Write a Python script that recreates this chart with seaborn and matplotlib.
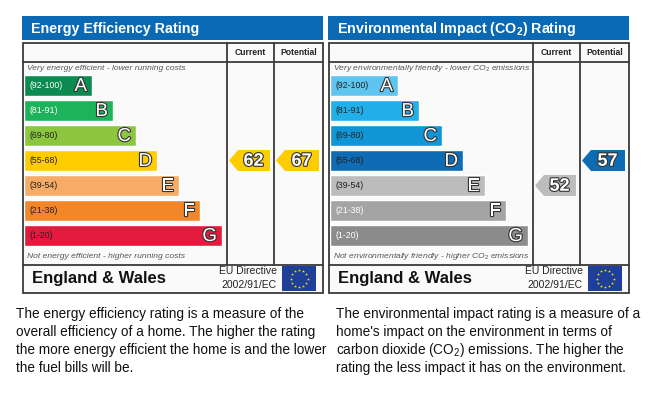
import numpy as np
import seaborn as sns
import matplotlib.pyplot as plt
from matplotlib.patches import Rectangle, Polygon
import matplotlib.patheffects as pe

sns.set_theme(style='white')
plt.rcParams['font.family'] = ['Liberation Sans', 'DejaVu Sans']
plt.rcParams['mathtext.fontset'] = 'custom'
plt.rcParams['mathtext.rm'] = 'Liberation Sans'
plt.rcParams['mathtext.it'] = 'Liberation Sans:italic'
plt.rcParams['mathtext.bf'] = 'Liberation Sans:bold'

# 数据
bands = ['A', 'B', 'C', 'D', 'E', 'F', 'G']
ranges = ['(92-100)', '(81-91)', '(69-80)', '(55-68)', '(39-54)', '(21-38)', '(1-20)']
range_low = [92, 81, 69, 55, 39, 21, 1]
band_len = [68, 89, 112, 133, 155, 176, 198]

ee_colors = ['#0c8a50', '#1db35a', '#8cc63f', '#ffcc00', '#f6ac66', '#f2872a', '#e3193d']
ee_label_colors = ['white', 'white', '#222', '#222', '#222', '#222', '#222']
ei_colors = ['#5fc4f0', '#20afe9', '#1096d6', '#0e6cb5', '#bcbcbc', '#a4a4a4', '#8c8c8c']
ei_label_colors = ['#222', '#222', '#222', '#222', '#222', 'white', 'white']

ee_current, ee_potential = 62, 67
ei_current, ei_potential = 52, 57

ee_title = 'Energy Efficiency Rating'
ei_title = r'Environmental Impact (CO$_\mathbf{2}$) Rating'
ee_top = 'Very energy efficient - lower running costs'
ee_bottom = 'Not energy efficient - higher running costs'
ei_top = r'Very environmentally friendly - lower CO$_2$ emissions'
ei_bottom = r'Not environmentally friendly - higher CO$_2$ emissions'

ee_text = ['The energy efficiency rating is a measure of the',
           'overall efficiency of a home. The higher the rating',
           'the more energy efficient the home is and the lower',
           'the fuel bills will be.']
ei_text = ['The environmental impact rating is a measure of a',
           "home's impact on the environment in terms of",
           r'carbon dioxide (CO$_2$) emissions. The higher the',
           'rating the less impact it has on the environment.']

W, H = 656, 403
fig = plt.figure(figsize=(W / 100, H / 100), dpi=100)
fig.patch.set_facecolor('white')
ax = fig.add_axes([0, 0, 1, 1])
ax.set_xlim(0, W)
ax.set_ylim(H, 0)
ax.axis('off')

title_blue = '#0a69b4'
line_c = '#3a3a3a'
white_stroke = [pe.withStroke(linewidth=1.6, foreground='#333333')]


def band_of(r):
    for i, lo in enumerate(range_low):
        if r >= lo:
            return i
    return len(range_low) - 1


def arrow(bx, col_l, col_r, rating, colors):
    i = band_of(rating)
    tip, right = col_l + 2, col_r - 4
    h = 0.42
    pts = [(tip, i), (tip + 9, i - h), (right, i - h), (right, i + h), (tip + 9, i + h)]
    bx.add_patch(Polygon(pts, closed=True, facecolor=colors[i], edgecolor='none'))
    bx.text((tip + right) / 2 + 4, i + 0.03, str(rating), ha='center', va='center',
            fontsize=13, fontweight='bold', color='white', path_effects=white_stroke)


def panel(x0, title, top, bottom, colors, label_colors, cur, pot, text_lines, tx):
    # 标题
    ax.add_patch(Rectangle((x0 - 1, 16), 301, 24, facecolor=title_blue, edgecolor='none'))
    ax.text(x0 + 8, 28.5, title, color='white', fontsize=10.3, fontweight='bold', va='center')
    # 表格框
    ax.add_patch(Rectangle((x0, 43), 300, 250, facecolor='#fafafa', edgecolor=line_c, lw=1.3))
    ax.plot([x0, x0 + 300], [62, 62], color=line_c, lw=1.3)
    ax.plot([x0, x0 + 300], [265, 265], color=line_c, lw=1.3)
    for cx in (x0 + 204, x0 + 251):
        ax.plot([cx, cx], [43, 265], color=line_c, lw=1.3)
    ax.text(x0 + 227.5, 52.5, 'Current', fontsize=6.2, fontweight='bold', ha='center', va='center', color='#222')
    ax.text(x0 + 275.5, 52.5, 'Potential', fontsize=6.2, fontweight='bold', ha='center', va='center', color='#222')
    ax.text(x0 + 4, 69, top, fontsize=6.1, style='italic', color='#555', va='center')
    ax.text(x0 + 4, 256, bottom, fontsize=6.1, style='italic', color='#555', va='center')
    # 页脚
    ax.text(x0 + 9, 279, 'England & Wales', fontsize=12, fontweight='bold', va='center', color='#111')
    ax.text(x0 + 254, 271.5, 'EU Directive', fontsize=7.5, ha='right', va='center', color='#222')
    ax.text(x0 + 254, 285, '2002/91/EC', fontsize=7.5, ha='right', va='center', color='#222')
    ax.add_patch(Rectangle((x0 + 259, 266), 34, 25, facecolor='#1d3f9a', edgecolor='none'))
    ang = np.linspace(0, 2 * np.pi, 12, endpoint=False)
    ax.scatter(x0 + 276 + 8.5 * np.cos(ang), 278.5 + 8.5 * np.sin(ang), marker='*', s=5,
               color='#ffdd00', linewidths=0)

    # 条形
    bx = fig.add_axes([(x0 + 1) / W, (H - 265) / H, 299 / W, 203 / H])
    sns.barplot(x=band_len, y=bands, hue=bands, palette=colors, legend=False, orient='h',
                width=0.84, saturation=1, ax=bx)
    bx.set_xlim(0, 299)
    bx.set_ylim(7.18, -0.94)
    bx.set_facecolor('none')
    bx.axis('off')
    for i, (b, r) in enumerate(zip(bands, ranges)):
        bx.text(band_len[i] - 5, i + 0.04, b, ha='right', va='center', fontsize=13.5,
                color='white', path_effects=white_stroke)
        bx.text(5, i, r, va='center', fontsize=6.3, color=label_colors[i])
    arrow(bx, 203, 250, cur, colors)
    arrow(bx, 250, 299, pot, colors)

    # 说明文字
    for k, line in enumerate(text_lines):
        ax.text(tx, 314 + 18 * k, line, fontsize=9.8, va='center', color='#111')


panel(23, ee_title, ee_top, ee_bottom, ee_colors, ee_label_colors, ee_current, ee_potential, ee_text, 16)
panel(329, ei_title, ei_top, ei_bottom, ei_colors, ei_label_colors, ei_current, ei_potential, ei_text, 336)

fig.savefig('out.png', dpi=100)
